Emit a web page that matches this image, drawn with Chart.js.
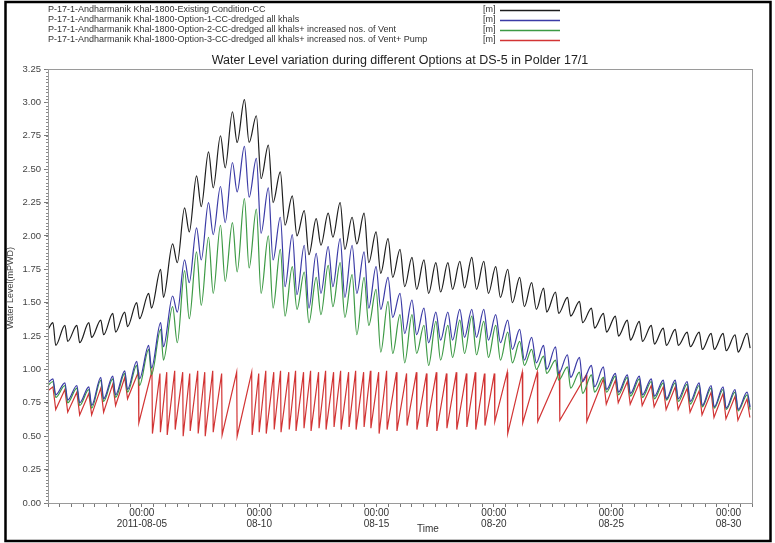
<!DOCTYPE html>
<html>
<head>
<meta charset="utf-8">
<title>Water Level variation - DS-5 Polder 17/1</title>
<script src="https://cdn.jsdelivr.net/npm/chart.js@4/dist/chart.umd.min.js"></script>
<style>
  html, body { margin: 0; padding: 0; background: #fff; }
  #wrap { width: 775px; height: 543px; position: relative; }
</style>
</head>
<body>
<div id="wrap"><canvas id="chart"></canvas></div>
<script>
// Series names (legend)
const seriesNames = [
    'P-17-1-Andharmanik Khal-1800-Existing Condition-CC',
    'P-17-1-Andharmanik Khal-1800-Option-1-CC-dredged all khals',
    'P-17-1-Andharmanik Khal-1800-Option-2-CC-dredged all khals+ increased nos. of Vent',
    'P-17-1-Andharmanik Khal-1800-Option-3-CC-dredged all khals+ increased nos. of Vent+ Pump'
];
const seriesColors = ['#1e1e1e', '#3b3ba6', '#3d9a45', '#d23434'];

// x = days since 2011-08-01 00:00
const xTickDays = [4, 9, 14, 19, 24, 29];
const xTickDates = ['2011-08-05', '08-10', '08-15', '08-20', '08-25', '08-30'];

// tide high / low times (days) shared by the first three series
const tidePeakDay = [0.21, 0.72, 1.23, 1.74, 2.25, 2.76, 3.27, 3.78, 4.29, 4.80,
    5.31, 5.82, 6.33, 6.84, 7.35, 7.86, 8.37, 8.88, 9.39, 9.90,
    10.41, 10.92, 11.43, 11.94, 12.45, 12.96, 13.47, 13.98, 14.49, 15.00,
    15.51, 16.02, 16.53, 17.04, 17.55, 18.06, 18.57, 19.08, 19.59, 20.10,
    20.61, 21.12, 21.63, 22.14, 22.65, 23.16, 23.67, 24.18, 24.69, 25.20,
    25.71, 26.22, 26.73, 27.24, 27.75, 28.26, 28.77, 29.28, 29.79];
const tideTroughDay = [0.33, 0.84, 1.35, 1.86, 2.37, 2.88, 3.39, 3.90, 4.41, 4.92,
    5.51, 6.02, 6.53, 7.04, 7.55, 8.06, 8.57, 9.08, 9.59, 10.10,
    10.61, 11.12, 11.63, 12.14, 12.65, 13.16, 13.67, 14.18, 14.69, 15.20,
    15.71, 16.22, 16.73, 17.24, 17.75, 18.26, 18.77, 19.28, 19.79, 20.30,
    20.81, 21.25, 21.76, 22.27, 22.78, 23.29, 23.80, 24.31, 24.82, 25.33,
    25.84, 26.35, 26.86, 27.37, 27.88, 28.39, 28.90, 29.41, 29.92];

// Existing condition (black)
const existingStart = 1.30;
const existingHigh = [1.35, 1.33, 1.33, 1.35, 1.37, 1.42, 1.43, 1.50, 1.57, 1.75,
    1.94, 2.21, 2.45, 2.63, 2.75, 2.93, 3.02, 2.90, 2.68, 2.48,
    2.30, 2.19, 2.13, 2.17, 2.25, 2.14, 2.17, 2.03, 1.98, 1.90,
    1.84, 1.82, 1.80, 1.80, 1.81, 1.84, 1.81, 1.77, 1.75, 1.69,
    1.65, 1.61, 1.58, 1.54, 1.51, 1.46, 1.42, 1.40, 1.37, 1.36,
    1.33, 1.31, 1.30, 1.28, 1.28, 1.27, 1.27, 1.26, 1.27];
const existingLow = [1.18, 1.21, 1.20, 1.24, 1.26, 1.28, 1.32, 1.38, 1.46, 1.54,
    1.80, 2.03, 2.22, 2.36, 2.51, 2.70, 2.70, 2.43, 2.25, 2.08,
    2.00, 1.86, 1.93, 1.99, 1.90, 1.94, 1.80, 1.72, 1.69, 1.62,
    1.60, 1.57, 1.58, 1.60, 1.61, 1.60, 1.57, 1.54, 1.50, 1.47,
    1.45, 1.43, 1.42, 1.40, 1.35, 1.31, 1.28, 1.25, 1.22, 1.21,
    1.19, 1.18, 1.18, 1.17, 1.15, 1.15, 1.14, 1.13, 1.16];

// Option 1 (blue)
const option1Start = 0.90;
const option1High = [0.93, 0.90, 0.88, 0.87, 0.94, 0.95, 0.99, 1.06, 1.18, 1.35,
    1.55, 1.82, 2.06, 2.25, 2.37, 2.55, 2.67, 2.58, 2.36, 2.14,
    2.01, 1.93, 1.87, 1.92, 1.98, 1.93, 1.88, 1.77, 1.69, 1.57,
    1.52, 1.46, 1.43, 1.43, 1.45, 1.45, 1.45, 1.41, 1.37, 1.30,
    1.24, 1.18, 1.17, 1.11, 1.09, 1.03, 1.02, 0.97, 0.96, 0.95,
    0.93, 0.92, 0.92, 0.91, 0.90, 0.88, 0.87, 0.85, 0.83];
const option1Low = [0.81, 0.77, 0.75, 0.73, 0.78, 0.81, 0.85, 0.93, 1.01, 1.17,
    1.43, 1.65, 1.82, 2.01, 2.10, 2.33, 2.29, 2.02, 1.82, 1.62,
    1.56, 1.46, 1.57, 1.62, 1.54, 1.57, 1.46, 1.45, 1.39, 1.27,
    1.26, 1.20, 1.22, 1.22, 1.24, 1.24, 1.22, 1.20, 1.15, 1.07,
    1.05, 1.00, 0.97, 0.94, 0.91, 0.87, 0.85, 0.83, 0.82, 0.81,
    0.80, 0.78, 0.78, 0.76, 0.73, 0.72, 0.71, 0.70, 0.72];

// Option 2 (green)
const option2Start = 0.88;
const option2High = [0.91, 0.88, 0.86, 0.85, 0.92, 0.93, 0.97, 1.03, 1.15, 1.30,
    1.47, 1.74, 1.88, 1.99, 2.08, 2.10, 2.28, 2.20, 2.00, 1.90,
    1.77, 1.73, 1.69, 1.78, 1.80, 1.71, 1.69, 1.60, 1.51, 1.41,
    1.41, 1.33, 1.36, 1.33, 1.37, 1.40, 1.36, 1.33, 1.28, 1.21,
    1.15, 1.10, 1.07, 1.02, 0.98, 0.96, 0.94, 0.95, 0.94, 0.93,
    0.91, 0.90, 0.90, 0.89, 0.88, 0.86, 0.85, 0.83, 0.81];
const option2Low = [0.79, 0.75, 0.73, 0.71, 0.76, 0.79, 0.83, 0.88, 0.96, 1.07,
    1.20, 1.38, 1.48, 1.57, 1.66, 1.73, 1.76, 1.57, 1.46, 1.40,
    1.45, 1.35, 1.41, 1.47, 1.39, 1.26, 1.33, 1.13, 1.12, 1.05,
    1.12, 1.03, 1.07, 1.09, 1.12, 1.11, 1.09, 1.07, 1.05, 1.03,
    1.00, 0.97, 0.92, 0.86, 0.82, 0.83, 0.83, 0.81, 0.80, 0.79,
    0.78, 0.77, 0.76, 0.74, 0.72, 0.71, 0.70, 0.69, 0.70];

// Option 3 with pump (red): level just before each fall and just after it
const option3Start = 0.84;
const option3TopDay = [0.21, 0.72, 1.23, 1.74, 2.25, 2.76, 3.27, 3.85, 4.43, 4.77,
    5.06, 5.40, 5.74, 6.04, 6.38, 6.68, 7.02, 7.40, 8.04, 8.68,
    8.98, 9.28, 9.62, 9.91, 10.26, 10.55, 10.89, 11.19, 11.53, 11.83,
    12.17, 12.47, 12.81, 13.11, 13.45, 13.74, 14.09, 14.43, 14.85, 15.28,
    15.70, 16.13, 16.55, 16.98, 17.40, 17.83, 18.21, 18.60, 19.02, 19.57,
    20.21, 20.85, 21.79, 22.94, 23.67, 24.18, 24.69, 25.20, 25.71, 26.22,
    26.73, 27.24, 27.75, 28.26, 28.77, 29.28, 29.79];
const option3Top = [0.87, 0.85, 0.83, 0.82, 0.86, 0.89, 0.94, 0.98, 0.99, 0.97,
    0.98, 0.99, 0.98, 0.97, 0.99, 0.98, 0.99, 0.97, 0.98, 0.98,
    0.97, 0.99, 0.98, 0.99, 0.98, 0.99, 0.98, 0.99, 0.98, 0.99,
    0.98, 0.99, 0.98, 0.99, 0.98, 0.99, 0.98, 0.99, 0.98, 0.97,
    0.98, 0.97, 0.98, 0.97, 0.98, 0.97, 0.98, 0.97, 0.97, 0.98,
    0.98, 0.98, 0.98, 0.96, 0.93, 0.92, 0.91, 0.90, 0.88, 0.87,
    0.87, 0.86, 0.84, 0.83, 0.82, 0.80, 0.78];
const option3BottomDay = [0.33, 0.84, 1.35, 1.86, 2.37, 2.88, 3.39, 3.87, 4.45, 4.79,
    5.08, 5.42, 5.76, 6.06, 6.40, 6.70, 7.04, 7.42, 8.06, 8.70,
    9.00, 9.30, 9.64, 9.93, 10.28, 10.57, 10.91, 11.21, 11.55, 11.85,
    12.19, 12.49, 12.83, 13.13, 13.47, 13.76, 14.11, 14.45, 14.87, 15.30,
    15.72, 16.15, 16.57, 17.00, 17.42, 17.85, 18.23, 18.62, 19.04, 19.59,
    20.23, 20.87, 21.81, 22.96, 23.79, 24.30, 24.81, 25.32, 25.83, 26.34,
    26.85, 27.36, 27.87, 28.38, 28.89, 29.40, 29.91];
const option3Bottom = [0.70, 0.68, 0.66, 0.66, 0.68, 0.73, 0.78, 0.60, 0.52, 0.53,
    0.51, 0.55, 0.50, 0.54, 0.52, 0.50, 0.53, 0.51, 0.50, 0.51,
    0.53, 0.52, 0.55, 0.53, 0.55, 0.54, 0.56, 0.54, 0.56, 0.55,
    0.57, 0.55, 0.57, 0.55, 0.57, 0.56, 0.52, 0.55, 0.54, 0.58,
    0.55, 0.57, 0.54, 0.56, 0.55, 0.57, 0.55, 0.58, 0.61, 0.52,
    0.60, 0.61, 0.62, 0.61, 0.74, 0.75, 0.74, 0.73, 0.72, 0.70,
    0.70, 0.68, 0.66, 0.64, 0.63, 0.62, 0.64];

// Build {x, y} points alternating high/low
function buildPoints(start, highDays, highs, lowDays, lows) {
    const pts = [{ x: 0, y: start }];
    highDays.forEach((d, i) => {
        pts.push({ x: d, y: highs[i] });
        pts.push({ x: lowDays[i], y: lows[i] });
    });
    return pts;
}

const FONT = '"Liberation Sans", Arial, sans-serif';

// Extra drawing: frame, legend, titles, minor ticks
const decorPlugin = {
    id: 'decor',
    afterDraw(chart) {
        const ctx = chart.ctx;
        const area = chart.chartArea;
        const y = chart.scales.y;
        ctx.save();

        // plot frame
        ctx.strokeStyle = '#9a9a9a';
        ctx.lineWidth = 1;
        ctx.strokeRect(area.left + 0.5, area.top + 0.5, area.right - area.left, area.bottom - area.top);

        // minor ticks on the value axis
        ctx.strokeStyle = '#888';
        ctx.beginPath();
        for (let v = 0; v <= 3.25 + 1e-9; v += 0.025) {
            const py = Math.round(y.getPixelForValue(v)) + 0.5;
            ctx.moveTo(area.left - 2, py);
            ctx.lineTo(area.left, py);
        }
        ctx.stroke();

        // title
        ctx.fillStyle = '#222';
        ctx.font = '12.5px ' + FONT;
        ctx.textAlign = 'center';
        ctx.textBaseline = 'middle';
        ctx.fillText('Water Level variation during different Options at DS-5 in Polder 17/1', 400, 61);

        // legend
        ctx.font = '9px ' + FONT;
        ctx.textAlign = 'left';
        seriesNames.forEach((name, i) => {
            const ly = 10 + i * 10;
            ctx.fillStyle = '#333';
            ctx.fillText(name, 48, ly);
            const w = ctx.measureText(name).width;
            ctx.fillText('[m]', Math.max(483, 48 + w + 3), ly);
            ctx.strokeStyle = seriesColors[i];
            ctx.lineWidth = 1.3;
            ctx.beginPath();
            ctx.moveTo(500, ly + 0.5);
            ctx.lineTo(560, ly + 0.5);
            ctx.stroke();
        });

        // axis titles
        ctx.fillStyle = '#333';
        ctx.font = '10px ' + FONT;
        ctx.textAlign = 'center';
        ctx.fillText('Time', 428, 529);
        ctx.save();
        ctx.translate(11, 288);
        ctx.rotate(-Math.PI / 2);
        ctx.font = '9px ' + FONT;
        ctx.fillStyle = '#444';
        ctx.fillText('Water Level(mPWD)', 0, 0);
        ctx.restore();

        // outer border of the picture
        ctx.strokeStyle = '#000';
        ctx.lineWidth = 2.5;
        ctx.strokeRect(5.5, 2, 765, 539);
        ctx.restore();
    }
};

const ctx = document.getElementById('chart').getContext('2d');
const datasets = [
    buildPoints(existingStart, tidePeakDay, existingHigh, tideTroughDay, existingLow),
    buildPoints(option1Start, tidePeakDay, option1High, tideTroughDay, option1Low),
    buildPoints(option2Start, tidePeakDay, option2High, tideTroughDay, option2Low),
    buildPoints(option3Start, option3TopDay, option3Top, option3BottomDay, option3Bottom)
].map((pts, i) => ({
    label: seriesNames[i],
    data: pts,
    borderColor: seriesColors[i],
    borderWidth: 1.2,
    pointRadius: 0,
    fill: false,
    cubicInterpolationMode: i < 3 ? 'monotone' : 'default',
    tension: 0
}));

new Chart(ctx, {
    type: 'line',
    data: { datasets: datasets },
    plugins: [decorPlugin],
    options: {
        responsive: true,
        maintainAspectRatio: false,
        animation: false,
        devicePixelRatio: 1,
        layout: { padding: { left: 0, right: 23, top: 69, bottom: 0 } },
        plugins: {
            legend: { display: false },
            title: { display: false },
            tooltip: { enabled: false }
        },
        scales: {
            x: {
                type: 'linear',
                min: 0,
                max: 30,
                afterFit: (scale) => { scale.height = 40; },
                border: { display: true, color: '#777' },
                grid: { drawOnChartArea: false, tickLength: 4, color: '#777' },
                ticks: {
                    stepSize: 0.5,
                    autoSkip: false,
                    maxRotation: 0,
                    maxTicksLimit: 100,
                    padding: 1,
                    color: '#333',
                    font: { family: FONT, size: 10, lineHeight: 1.1 },
                    callback: (v) => {
                        const k = xTickDays.indexOf(v);
                        return k >= 0 ? ['00:00', xTickDates[k]] : '';
                    }
                }
            },
            y: {
                min: 0,
                max: 3.25,
                afterFit: (scale) => { scale.width = 48; },
                border: { display: true, color: '#777' },
                grid: { drawOnChartArea: false, tickLength: 4, color: '#777' },
                ticks: {
                    stepSize: 0.25,
                    padding: 3,
                    color: '#444',
                    font: { family: FONT, size: 9.5 },
                    callback: (v) => v.toFixed(2)
                }
            }
        }
    }
});
</script>
</body>
</html>
